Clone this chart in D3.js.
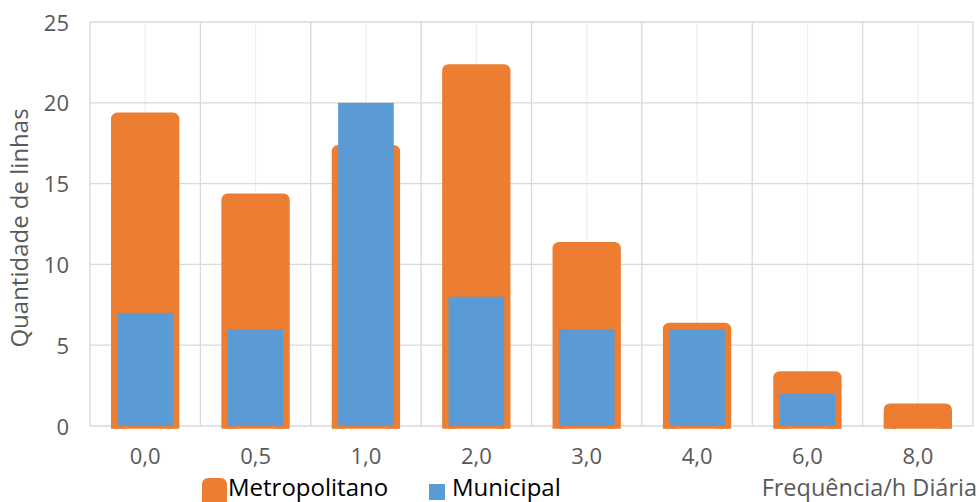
<!DOCTYPE html>
<html><head><meta charset="utf-8">
<script src="https://cdn.jsdelivr.net/npm/d3@7"></script>
<style>body{margin:0;background:#fff}svg{display:block}text{font-family:"Open Sans",sans-serif}</style>
</head><body><svg id="c" width="980" height="502"></svg>
<script>
const categories = ["0,0","0,5","1,0","2,0","3,0","4,0","6,0","8,0"];
const metropolitano = [19,14,17,22,11,6,3,1];
const municipal = [7,6,20,8,6,6,2,0];
const yTicks = [0,5,10,15,20,25];
const seriesNames = ["Metropolitano","Municipal"];
const colors = {metro:"#ED7D31", muni:"#5B9BD5"};

const svg = d3.select("#c");
const L=90,R=973,T=22,B=426;
const x = d3.scaleBand().domain(categories).range([L,R]).paddingInner(0).paddingOuter(0);
const y = d3.scaleLinear().domain([0,25]).range([B,T]);
const bw = x.bandwidth()*0.504;

svg.append("g").selectAll("line").data(categories).join("line")
  .attr("x1",d=>x(d)+x.bandwidth()/2).attr("x2",d=>x(d)+x.bandwidth()/2)
  .attr("y1",T).attr("y2",B).attr("stroke","#efefef").attr("stroke-width",1.3);
const bounds = categories.map(d=>x(d)).concat([R]);
svg.append("g").selectAll("line").data(bounds).join("line")
  .attr("x1",d=>d).attr("x2",d=>d).attr("y1",T).attr("y2",B)
  .attr("stroke","#d9d9d9").attr("stroke-width",1.3);
svg.append("g").selectAll("line").data(yTicks).join("line")
  .attr("x1",L).attr("x2",R).attr("y1",d=>y(d)).attr("y2",d=>y(d))
  .attr("stroke","#d9d9d9").attr("stroke-width",1.3);

svg.append("g").selectAll("text").data(yTicks).join("text")
  .attr("x",69).attr("y",d=>y(d)+8.5).attr("text-anchor","end")
  .attr("font-size",22).attr("fill","#595959").text(d=>d);
svg.append("g").selectAll("text").data(categories).join("text")
  .attr("x",d=>x(d)+x.bandwidth()/2).attr("y",464).attr("text-anchor","middle")
  .attr("font-size",22).attr("fill","#595959").text(d=>d);

svg.append("clipPath").attr("id","clip").append("rect")
  .attr("x",0).attr("y",0).attr("width",980).attr("height",B+2.7);

const sw = 12.7;
svg.append("g").attr("clip-path","url(#clip)").selectAll("rect")
  .data(metropolitano.map((v,i)=>({c:categories[i],v})))
  .join("rect")
  .attr("x",d=>x(d.c)+(x.bandwidth()-bw)/2).attr("width",bw)
  .attr("y",d=>y(d.v)).attr("height",d=>y(0)-y(d.v)+10)
  .attr("fill",colors.metro).attr("stroke",colors.metro)
  .attr("stroke-width",sw).attr("stroke-linejoin","round");

svg.append("g").selectAll("rect")
  .data(municipal.map((v,i)=>({c:categories[i],v})))
  .join("rect")
  .attr("x",d=>x(d.c)+(x.bandwidth()-bw)/2).attr("width",bw)
  .attr("y",d=>y(d.v)).attr("height",d=>y(0)-y(d.v))
  .attr("fill",colors.muni);

svg.append("text").attr("transform","translate(28,228) rotate(-90)")
  .attr("text-anchor","middle").attr("font-size",24).attr("fill","#595959")
  .text("Quantidade de linhas");

svg.append("rect").attr("x",208).attr("y",484).attr("width",13).attr("height",20)
  .attr("fill",colors.metro).attr("stroke",colors.metro).attr("stroke-width",12).attr("stroke-linejoin","round");
svg.append("text").attr("x",228).attr("y",495.5).attr("font-size",24).attr("fill","#000").text(seriesNames[0]);
svg.append("rect").attr("x",429).attr("y",484).attr("width",16).attr("height",16).attr("fill",colors.muni);
svg.append("text").attr("x",452).attr("y",495.5).attr("font-size",24).attr("fill","#000").text(seriesNames[1]);
svg.append("text").attr("x",977).attr("y",495.5).attr("text-anchor","end")
  .attr("font-size",23.5).attr("fill","#595959").text("Frequência/h Diária");
</script></body></html>
